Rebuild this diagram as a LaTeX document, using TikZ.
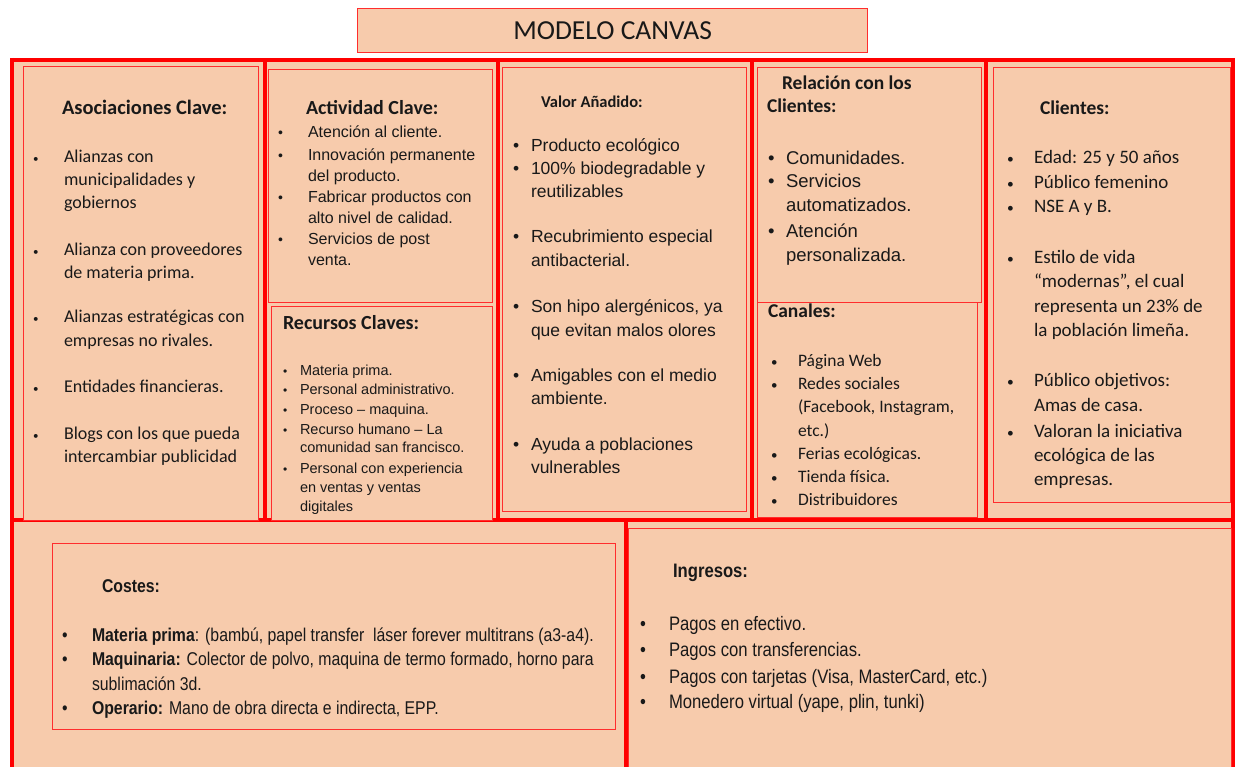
\documentclass[tikz,border=0pt]{standalone}
\usepackage{fontspec}
\setmainfont{Carlito}
\newfontfamily\arial{Liberation Sans}
\newfontfamily\narrow[FakeStretch=0.855]{Liberation Sans}
\newcommand\fs[1]{\fontsize{#1}{#1}\selectfont}
\definecolor{peach}{RGB}{247,203,172}
\definecolor{cred}{RGB}{255,0,0}
\definecolor{lred}{RGB}{255,45,45}
\definecolor{txtc}{RGB}{25,25,25}
\newcounter{tn}
\newcommand\T[3]{\stepcounter{tn}\node[tx] (t\arabic{tn}) at (#1,#2) {#3};}
\tikzset{
  tx/.style={anchor=base west, inner sep=0pt, outer sep=0pt, text=txtc},
  cell/.style={draw=lred, line width=1.3pt, fill=peach, anchor=north west, inner sep=0pt},
  thick/.style={draw=cred, line width=4.5pt},
}
\begin{document}
\begin{tikzpicture}[x=1pt,y=-1pt]
\clip (0,0) rectangle (1235,767);
\useasboundingbox (0,0) rectangle (1235,767);
% title
\node[cell, minimum width=510pt, minimum height=44pt] (title) at (357,8) {};
\node[text=txtc, font=\fs{27.5}] (titletext) at (title.center) {MODELO CANVAS};
% background and frame
\fill[peach] (10,58) rectangle (1235,767);
\coordinate (fl1) at (12,58); \coordinate (fl2) at (12,767);
\coordinate (ft1) at (10,60); \coordinate (ft2) at (1235,60);
\coordinate (fr1) at (1233,58); \coordinate (fr2) at (1233,767);
\coordinate (fm1) at (10,520); \coordinate (fm2) at (1235,520);
\draw[thick] (fl1) -- (fl2);
\draw[thick] (ft1) -- (ft2);
\draw[thick] (fr1) -- (fr2);
\draw[thick] (fm1) -- (fm2);
\foreach \xx in {265,498,752,986} {\draw[thick] (\xx,60) -- (\xx,520);}
\draw[thick] (626,520) -- (626,767);
% inner boxes
\node[cell, minimum width=235pt, minimum height=454pt] (asoc) at (23,66) {};
\node[cell, minimum width=224pt, minimum height=233pt] (act) at (268,69) {};
\node[cell, minimum width=221pt, minimum height=214pt] (rec) at (271,306) {};
\node[cell, minimum width=244pt, minimum height=444pt] (val) at (502,67) {};
\node[cell, minimum width=220pt, minimum height=215pt] (can) at (757,302) {};
\node[cell, minimum width=224pt, minimum height=235pt] (rel) at (757,67) {};
\node[cell, minimum width=237pt, minimum height=435pt] (cli) at (993,67) {};
\node[cell, minimum width=563pt, minimum height=186pt] (cos) at (52,543) {};
\node[cell, minimum width=603pt, minimum height=250pt] (ing) at (628,528) {};

% Asociaciones
\begin{scope}[every node/.append style={font=\fs{18}}]
\T{62}{115}{\bfseries\fs{20.5}Asociaciones Clave:}
\foreach \yy in {163,256,323,393,439} {\T{33}{\yy}{\fs{11}•}}
\T{64}{163}{Alianzas con}
\T{64}{186}{municipalidades y}
\T{64}{209}{gobiernos}
\T{64}{256}{Alianza con proveedores}
\T{64}{279}{de materia prima.}
\T{64}{323}{Alianzas estratégicas con}
\T{64}{347}{empresas no rivales.}
\T{64}{393}{Entidades financieras.}
\T{64}{439}{Blogs con los que pueda}
\T{64}{462}{intercambiar publicidad}
\end{scope}

% Actividad
\begin{scope}[every node/.append style={font=\arial\fs{16}}]
\T{306}{115}{\normalfont\bfseries\fs{20}Actividad Clave:}
\foreach \yy in {138,161,203,245} {\T{278}{\yy}{\fs{14}•}}
\T{308}{138}{Atención al cliente.}
\T{308}{161}{Innovación permanente}
\T{308}{182}{del producto.}
\T{308}{203}{Fabricar productos con}
\T{308}{224}{alto nivel de calidad.}
\T{308}{245}{Servicios de post}
\T{308}{266}{venta.}
\end{scope}

% Recursos
\begin{scope}[every node/.append style={font=\arial\fs{14.5}}]
\T{283}{330}{\normalfont\bfseries\fs{20}Recursos Claves:}
\foreach \yy in {376,395,414,434,473} {\T{283}{\yy}{\fs{12}•}}
\T{300}{376}{Materia prima.}
\T{300}{395}{Personal administrativo.}
\T{300}{414}{Proceso – maquina.}
\T{300}{434}{Recurso humano – La}
\T{300}{453}{comunidad san francisco.}
\T{300}{473}{Personal con experiencia}
\T{300}{492}{en ventas y ventas}
\T{300}{511}{digitales}
\end{scope}

% Valor
\begin{scope}[every node/.append style={font=\arial\fs{17.5}}]
\T{541}{108}{\normalfont\bfseries\fs{16.5}Valor Añadido:}
\foreach \yy in {152,175,243,313,382,450} {\T{513}{\yy}{•}}
\T{531}{152}{Producto ecológico}
\T{531}{175}{100\% biodegradable y}
\T{531}{198}{reutilizables}
\T{531}{243}{Recubrimiento especial}
\T{531}{267}{antibacterial.}
\T{531}{313}{Son hipo alergénicos, ya}
\T{531}{337}{que evitan malos olores}
\T{531}{382}{Amigables con el medio}
\T{531}{405}{ambiente.}
\T{531}{450}{Ayuda a poblaciones}
\T{531}{473}{vulnerables}
\end{scope}

% Relacion
\begin{scope}[every node/.append style={font=\arial\fs{18.5}}]
\T{782}{90}{\normalfont\bfseries\fs{19.5}Relación con los}
\T{767}{113}{\normalfont\bfseries\fs{19.5}Clientes:}
\foreach \yy in {165,188,238} {\T{768}{\yy}{•}}
\T{786}{165}{Comunidades.}
\T{786}{188}{Servicios}
\T{786}{212}{automatizados.}
\T{786}{238}{Atención}
\T{786}{262}{personalizada.}
\end{scope}

% Canales
\begin{scope}[every node/.append style={font=\fs{17.5}}]
\T{768}{318}{\bfseries\fs{19.5}Canales:}
\foreach \yy in {367,390,459,482,505} {\T{771}{\yy}{\fs{13}•}}
\T{798}{367}{Página Web}
\T{798}{390}{Redes sociales}
\T{798}{413}{(Facebook, Instagram,}
\T{798}{436}{etc.)}
\T{798}{459}{Ferias ecológicas.}
\T{798}{482}{Tienda física.}
\T{798}{505}{Distribuidores}
\end{scope}

% Clientes
\begin{scope}[every node/.append style={font=\fs{19}}]
\T{1040}{115}{\bfseries\fs{19.5}Clientes:}
\foreach \yy in {164,189,213,264,387,437} {\T{1007}{\yy}{\fs{13.5}•}}
\T{1034}{164}{Edad: 25 y 50 años}
\T{1034}{189}{Público femenino}
\T{1034}{213}{NSE A y B.}
\T{1034}{264}{Estilo de vida}
\T{1034}{288}{“modernas”, el cual}
\T{1034}{313}{representa un 23\% de}
\T{1034}{337}{la población limeña.}
\T{1034}{387}{Público objetivos:}
\T{1034}{411}{Amas de casa.}
\T{1034}{437}{Valoran la iniciativa}
\T{1034}{461}{ecológica de las}
\T{1034}{485}{empresas.}
\end{scope}

% Costes
\begin{scope}[every node/.append style={font=\narrow\fs{18.5}}]
\T{102}{592}{\bfseries Costes:}
\foreach \yy in {641,665,714} {\T{62}{\yy}{•}}
\T{92}{641}{\textbf{Materia prima}: (bambú, papel transfer\ \ láser forever multitrans (a3-a4).}
\T{92}{665}{\textbf{Maquinaria:} Colector de polvo, maquina de termo formado, horno para}
\T{92}{690}{sublimación 3d.}
\T{92}{714}{\textbf{Operario:} Mano de obra directa e indirecta, EPP.}
\end{scope}

% Ingresos
\begin{scope}[every node/.append style={font=\narrow\fs{19.5}}]
\T{673}{577}{\bfseries Ingresos:}
\foreach \yy in {630,656,683,708} {\T{640}{\yy}{•}}
\T{669}{630}{Pagos en efectivo.}
\T{669}{656}{Pagos con transferencias.}
\T{669}{683}{Pagos con tarjetas (Visa, MasterCard, etc.)}
\T{669}{708}{Monedero virtual (yape, plin, tunki)}
\end{scope}
\end{tikzpicture}
\end{document}
